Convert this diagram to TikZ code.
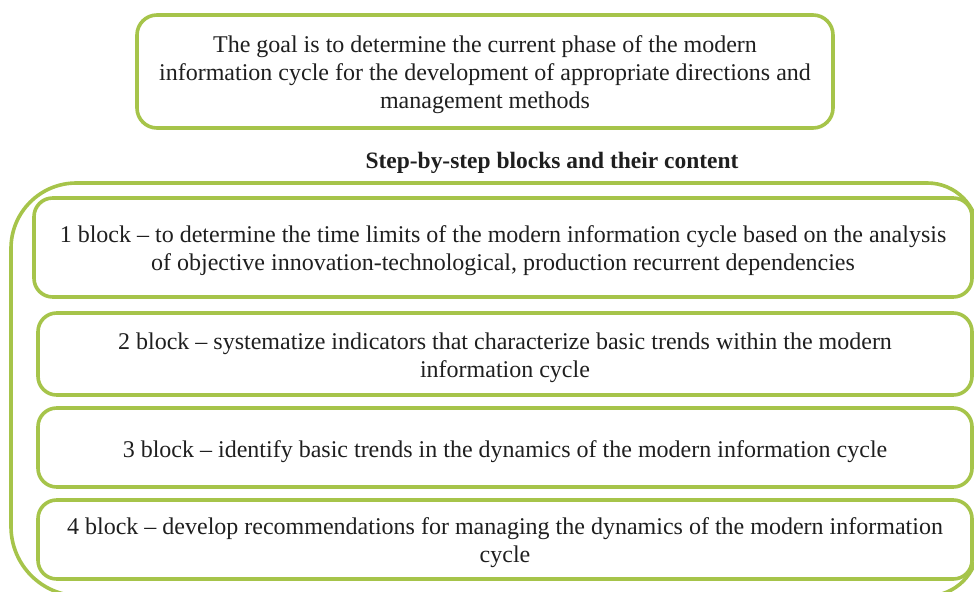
\documentclass[tikz,border=0pt]{standalone}
\usepackage{fontspec}
\setmainfont{Liberation Serif}
\definecolor{leaf}{RGB}{166,196,74}
\begin{document}
\begin{tikzpicture}[x=0.75pt,y=-0.75pt,
  frame/.style={draw=leaf,line width=2.7pt,line join=round},
  goalbox/.style={frame,rounded corners=15pt,fill=white},
  blockbox/.style={frame,rounded corners=14pt,fill=white},
  txt/.style={align=center,font=\fontsize{18pt}{20.9pt}\selectfont,text=black!88,inner sep=0pt}]
\useasboundingbox (0,0) rectangle (974,592);
\begin{scope}
\clip (0,0) rectangle (974,592);
% outer frame grouping the step blocks
\draw[frame] (11,350)
  [rounded corners=49pt] -- (11,183)
  [rounded corners=38pt] -- (978,183) -- (978,596)
  [rounded corners=52pt] -- (11,596) -- (11,350);
\end{scope}
% goal statement
\node[goalbox,minimum width=522pt,minimum height=84.75pt] (goal) at (485,71.5) {};
\node[txt] (goaltext) at ([yshift=-2.3pt]goal.center) {The goal is to determine the current phase of the modern\\information cycle for the development of appropriate directions and\\management methods};
% heading
\node[font=\bfseries\fontsize{17.6pt}{20pt}\selectfont,text=black!88,inner sep=0pt] (head) at (552,162.5) {Step-by-step blocks and their content};
% step blocks
\node[blockbox,minimum width=703.5pt,minimum height=74.25pt] (b1) at (503,247.5) {};
\node[txt] (b1text) at ([yshift=-2.4pt]b1.center) {1 block -- to determine the time limits of the modern information cycle based on the analysis\\of objective innovation-technological, production recurrent dependencies};
\node[blockbox,minimum width=700.5pt,minimum height=61.5pt] (b2) at (505,354) {};
\node[txt] (b2text) at ([yshift=-3pt]b2.center) {2 block -- systematize indicators that characterize basic trends within the modern\\information cycle};
\node[blockbox,minimum width=700.5pt,minimum height=59.25pt] (b3) at (505,447.5) {};
\node[txt] (b3text) at ([yshift=-3.2pt]b3.center) {3 block -- identify basic trends in the dynamics of the modern information cycle};
\node[blockbox,minimum width=700.5pt,minimum height=59.25pt] (b4) at (505,539.5) {};
\node[txt] (b4text) at ([yshift=-2.4pt]b4.center) {4 block -- develop recommendations for managing the dynamics of the modern information\\cycle};
\end{tikzpicture}
\end{document}
